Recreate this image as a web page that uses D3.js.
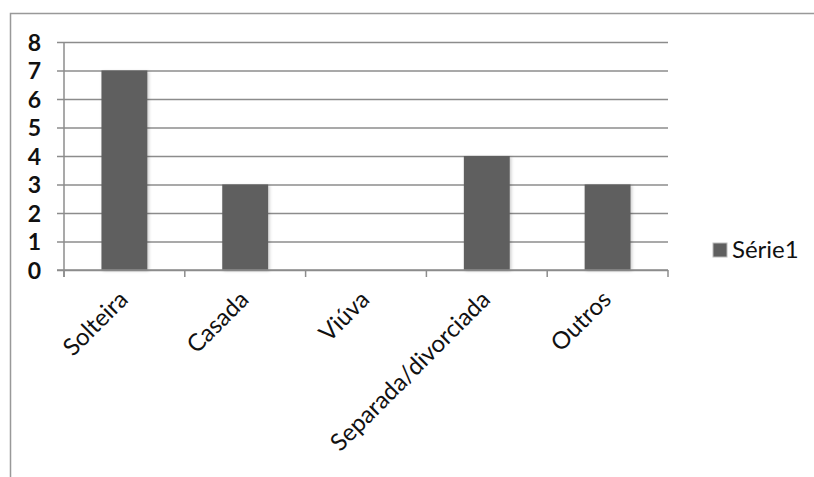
<!DOCTYPE html>
<html>
<head>
<meta charset="utf-8">
<script src="https://cdn.jsdelivr.net/npm/d3@7"></script>
<style>
  html, body { margin: 0; padding: 0; background: #fff; }
  svg { display: block; }
  text { font-family: Lato, "Open Sans", sans-serif; fill: #111; }
</style>
</head>
<body>
<svg id="chart" width="814" height="477"></svg>
<script>
// Estado civil — contagem por categoria
const categories = ["Solteira", "Casada", "Viúva", "Separada/divorciada", "Outros"];
const values = [7, 3, 0, 4, 3];
const yTicks = [0, 1, 2, 3, 4, 5, 6, 7, 8];
const seriesName = "Série1";

const svg = d3.select("#chart");
const W = 814, H = 477;

const plot = { left: 64, right: 668, top: 42, bottom: 270 };
const barColor = "#5f5f5f";
const gridColor = "#8c8c8c";

// soft outer shadow on bars
const defs = svg.append("defs");
const f = defs.append("filter").attr("id", "barShadow")
  .attr("x", "-20%").attr("y", "-10%").attr("width", "150%").attr("height", "130%");
f.append("feDropShadow").attr("dx", 1.5).attr("dy", 1).attr("stdDeviation", 1.8)
  .attr("flood-color", "#000").attr("flood-opacity", 0.2);

// chart frame
svg.append("rect")
  .attr("x", 10.5).attr("y", 13.5)
  .attr("width", W + 20).attr("height", H + 20)
  .attr("fill", "none").attr("stroke", "#999").attr("stroke-width", 1.5);

const x = d3.scaleBand()
  .domain(categories)
  .range([plot.left, plot.right])
  .paddingInner(0.62)
  .paddingOuter(0.31);

const y = d3.scaleLinear()
  .domain([0, 8])
  .range([plot.bottom, plot.top]);

// horizontal gridlines + y axis
const yAxis = d3.axisLeft(y)
  .tickValues(yTicks)
  .tickSize(-(plot.right - plot.left))
  .tickSizeOuter(0)
  .tickPadding(23)
  .tickFormat(d3.format("d"));

const gy = svg.append("g")
  .attr("transform", `translate(${plot.left},0)`)
  .call(yAxis);
gy.select(".domain").remove();
gy.selectAll(".tick line")
  .attr("x1", -7)
  .attr("stroke", gridColor)
  .attr("stroke-width", 1.5);
gy.selectAll(".tick text")
  .attr("font-size", 23)
  .attr("font-weight", "bold")
  .attr("fill", "#1a1a1a")
  .attr("dy", "0.36em");

// vertical axis line
svg.append("line")
  .attr("x1", plot.left).attr("x2", plot.left)
  .attr("y1", plot.top).attr("y2", plot.bottom + 7)
  .attr("stroke", gridColor).attr("stroke-width", 1.5);

// bars
svg.append("g").selectAll("rect")
  .data(values)
  .join("rect")
  .attr("x", (d, i) => x(categories[i]))
  .attr("y", d => y(d))
  .attr("width", x.bandwidth())
  .attr("height", d => y(0) - y(d))
  .attr("fill", barColor)
  .attr("filter", d => d > 0 ? "url(#barShadow)" : null);

// category axis with boundary ticks
const step = x.step();
const boundaries = d3.range(categories.length + 1).map(i => plot.left + i * step);
const gx = svg.append("g");
gx.append("line")
  .attr("x1", plot.left - 7).attr("x2", plot.right)
  .attr("y1", plot.bottom).attr("y2", plot.bottom)
  .attr("stroke", gridColor).attr("stroke-width", 1.5);
gx.selectAll("line.tk")
  .data(boundaries)
  .join("line")
  .attr("class", "tk")
  .attr("x1", d => d).attr("x2", d => d)
  .attr("y1", plot.bottom).attr("y2", plot.bottom + 7)
  .attr("stroke", gridColor).attr("stroke-width", 1.5);

// rotated category labels
gx.selectAll("text")
  .data(categories)
  .join("text")
  .attr("transform", d => `translate(${x(d) + x.bandwidth() / 2 + 5},${plot.bottom + 31}) rotate(-45)`)
  .attr("text-anchor", "end")
  .attr("font-size", 24)
  .text(d => d);

// legend
const lg = svg.append("g").attr("transform", "translate(713,243)");
lg.append("rect")
  .attr("width", 14).attr("height", 14)
  .attr("fill", barColor)
  .attr("stroke", "#bbb").attr("stroke-width", 1);
lg.append("text")
  .attr("x", 19).attr("y", 15)
  .attr("font-size", 24)
  .text(seriesName);
</script>
</body>
</html>
